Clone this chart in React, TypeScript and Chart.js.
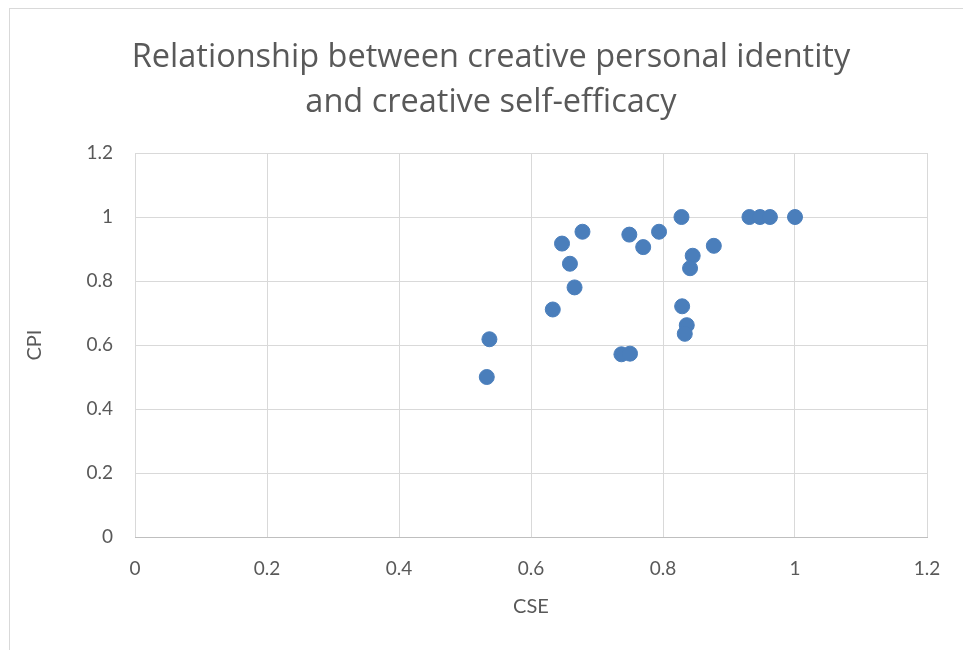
import React, { useEffect, useRef } from "react";
import { Chart, registerables } from "chart.js";

Chart.register(...registerables);

const TITLE_LINES = ["Relationship between creative personal identity", "and creative self-efficacy"];
const X_TITLE = "CSE";
const Y_TITLE = "CPI";

const cseValues = [
  0.537, 0.533, 0.633, 0.666, 0.659, 0.647, 0.678, 0.749, 0.770, 0.794, 0.828,
  0.737, 0.750, 0.829, 0.836, 0.833, 0.845, 0.841, 0.877, 0.931, 0.947, 0.962, 1.0,
];
const cpiValues = [
  0.618, 0.5, 0.711, 0.78, 0.854, 0.917, 0.954, 0.945, 0.906, 0.954, 1.0,
  0.571, 0.573, 0.721, 0.662, 0.635, 0.879, 0.84, 0.91, 1.0, 1.0, 1.0, 1.0,
];

const AXIS_MIN = 0;
const AXIS_MAX = 1.2;
const AXIS_STEP = 0.2;

const FONT = "Lato, 'Open Sans', sans-serif";
const TITLE_FONT = "'Open Sans', Lato, sans-serif";
const TEXT = "#595959";
const GRID = "#d9d9d9";

export default function App() {
  const ref = useRef<HTMLCanvasElement | null>(null);

  useEffect(() => {
    if (!ref.current) return;
    const points = cseValues.map((x, i) => ({ x, y: cpiValues[i] }));
    const fmt = (v: any) => String(Math.round(Number(v) * 10) / 10);
    const chart = new Chart(ref.current, {
      type: "scatter",
      data: {
        datasets: [
          {
            label: "CPI",
            data: points,
            backgroundColor: "#4a7ebb",
            borderColor: "#4a7ebb",
            borderWidth: 1,
            pointRadius: 7.5,
            pointHoverRadius: 7.5,
          },
        ],
      },
      options: {
        animation: false,
        responsive: false,
        maintainAspectRatio: false,
        layout: { padding: { left: 19, right: 0, top: 0, bottom: 0 } },
        plugins: {
          legend: { display: false },
          tooltip: { enabled: false },
          title: {
            display: true,
            text: TITLE_LINES,
            color: TEXT,
            font: { family: TITLE_FONT, size: 32.5, weight: "normal", lineHeight: 1.385 },
            padding: { top: 35, bottom: 28 },
          },
        },
        scales: {
          x: {
            type: "linear",
            min: AXIS_MIN,
            max: AXIS_MAX,
            afterFit: (s: any) => {
              s.height = 113;
            },
            ticks: {
              stepSize: AXIS_STEP,
              color: TEXT,
              padding: 20,
              font: { family: FONT, size: 19 },
              callback: fmt,
            },
            grid: { color: GRID, drawTicks: false },
            border: { display: true, color: "#bfbfbf", width: 1 },
            title: {
              display: true,
              text: X_TITLE,
              color: TEXT,
              font: { family: FONT, size: 20 },
              padding: { top: 4, bottom: 31 },
            },
          },
          y: {
            type: "linear",
            position: "left",
            min: AXIS_MIN,
            max: AXIS_MAX,
            afterFit: (s: any) => {
              s.width = 116;
            },
            ticks: {
              stepSize: AXIS_STEP,
              color: TEXT,
              padding: 22,
              font: { family: FONT, size: 19 },
              callback: fmt,
            },
            grid: { color: GRID, drawTicks: false },
            border: { display: false },
            title: {
              display: true,
              text: Y_TITLE,
              color: TEXT,
              font: { family: FONT, size: 20 },
              padding: { top: 4, bottom: 4 },
            },
          },
          yRight: {
            type: "linear",
            position: "right",
            min: AXIS_MIN,
            max: AXIS_MAX,
            display: true,
            afterFit: (s: any) => {
              s.width = 36;
            },
            ticks: { display: false },
            grid: { display: false, drawTicks: false },
            border: { display: false },
          },
        },
      },
    });
    return () => chart.destroy();
  }, []);

  return (
    <div style={{ position: "fixed", left: 0, top: 0, width: 963, height: 650, background: "#fff", overflow: "hidden" }}>
      <div
        style={{
          position: "absolute",
          left: 9,
          top: 8,
          width: 1000,
          height: 700,
          border: "1px solid #d9d9d9",
          boxSizing: "border-box",
        }}
      />
      <canvas ref={ref} width={963} height={650} style={{ position: "absolute", left: 0, top: 0 }} />
    </div>
  );
}
